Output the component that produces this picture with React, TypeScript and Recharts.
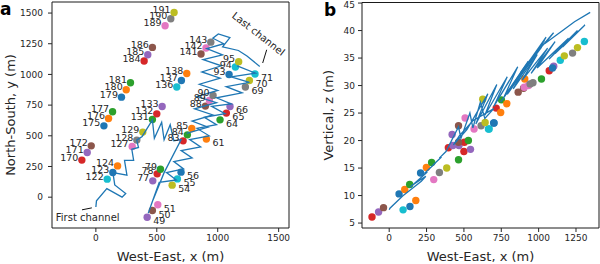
import React from 'react';
import { ScatterChart, Scatter, XAxis, YAxis, Cell, ReferenceArea, ReferenceLine, ReferenceDot } from 'recharts';

const tab10 = ['#1f77b4', '#ff7f0e', '#2ca02c', '#d62728', '#9467bd', '#8c564b', '#e377c2', '#7f7f7f', '#bcbd22', '#17becf'];

// survey points: id, west-east (m), north-south (m), vertical (m), colour slot
const pointIds = [49, 50, 51, 54, 55, 56, 61, 64, 65, 66, 69, 70, 71, 77, 78, 79, 83, 84, 85, 88, 89, 90, 93, 94, 95,
  122, 123, 124, 127, 128, 129, 131, 132, 133, 136, 137, 138, 141, 142, 143,
  170, 171, 172, 175, 176, 177, 179, 180, 181, 184, 185, 186, 189, 190, 191];
const pointWE = [421, 464, 508, 626, 669, 699, 907, 1019, 1071, 1101, 1227, 1260, 1306, 467, 503, 530, 716, 751, 787, 899, 932, 962, 1093, 1145, 1172,
  93, 139, 178, 298, 336, 385, 464, 500, 544, 664, 702, 746, 863, 904, 943,
  -115, -71, -38, 66, 104, 137, 210, 249, 284, 396, 426, 464, 568, 615, 642];
const pointNS = [-163, -109, -62, 98, 149, 204, 473, 630, 685, 739, 897, 951, 1003, 133, 190, 228, 459, 508, 560, 742, 788, 829, 1000, 1060, 1103,
  147, 201, 255, 413, 465, 530, 633, 679, 739, 897, 951, 1008, 1166, 1215, 1263,
  302, 364, 418, 581, 641, 696, 815, 875, 932, 1109, 1160, 1220, 1397, 1454, 1505];
const pointZ = [21.1, 22.7, 24.1, 27.5, 22.1, 23.2, 31.2, 31.2, 32.7, 33.5, 35.9, 36.9, 38.0, 19.1, 19.7, 20.0, 25.9, 27.4, 26.7, 29.5, 30.0, 30.5, 33.2, 34.6, 35.4,
  7.4, 8.0, 9.1, 12.9, 14.2, 15.0, 16.5, 18.0, 18.4, 22.1, 23.2, 25.1, 28.8, 29.7, 30.3,
  6.1, 7.0, 7.8, 10.3, 11.1, 12.0, 14.1, 15.1, 16.0, 18.7, 19.1, 19.7, 22.1, 22.7, 23.3];
const pointColor = [4, 5, 6, 8, 9, 0, 1, 2, 3, 4, 7, 8, 9, 4, 3, 2, 3, 2, 1, 5, 6, 7, 0, 9, 8,
  9, 0, 1, 6, 7, 8, 2, 3, 4, 9, 0, 1, 5, 6, 7,
  3, 4, 5, 0, 1, 2, 0, 1, 2, 3, 4, 5, 6, 7, 8];
const rightTagged = new Set([49, 50, 51, 54, 55, 56, 61, 64, 65, 66, 69, 70, 71]);

// channel trace, first run: first channel, staircase, east band, long leg, lower-right zigzag
const lowerRunX = [0, 5, 90, 215, 245, 155, 140,
  255, 235, 310, 295, 350, 335, 380,
  464, 480, 540, 560, 610, 640, 700,
  560, 470, 430, 455, 520,
  660, 580, 720, 640, 790, 700, 860, 770, 930, 830, 990, 890, 1060, 950, 1110, 990,
  1200, 1070, 1260, 1110, 1310, 1160];
const lowerRunY = [-80, -30, 70, 0, 30, 100, 200,
  180, 300, 300, 390, 405, 465, 495,
  630, 480, 610, 468, 590, 460, 470,
  200, -20, -130, -60, 120,
  140, 200, 230, 290, 320, 380, 410, 470, 500, 560, 590, 650, 680, 740, 760, 810,
  850, 900, 935, 980, 1010, 1070];
const lowerRunZ = [7.4, 7.7, 9.9, 12.6, 13.5, 11.9, 11.5,
  14.3, 14.0, 15.9, 15.6, 17.0, 16.8, 18.0,
  22.5, 20.4, 25.0, 22.3, 27.0, 24.0, 25.8,
  23.6, 20.9, 19.2, 20.0, 22.0,
  28.5, 23.0, 30.2, 24.6, 31.6, 26.2, 33.4, 28.0, 34.4, 29.4, 35.6, 31.0, 36.8, 32.2, 38.0, 33.2,
  38.6, 34.8, 40.0, 35.8, 41.0, 37.0];

// second run: left zigzag up to the top, then out to the last channel
const upperRunX = [745, 920, 790, 960, 810, 990, 830, 1000, 850, 1020, 870, 1030, 880, 1040, 910, 1050, 960, 1005, 1100, 1040, 1170, 1240, 1345];
const upperRunY = [520, 570, 620, 670, 720, 770, 820, 870, 920, 970, 1020, 1070, 1120, 1160, 1210, 1250, 1295, 1330, 1300, 1225, 1195, 1150, 1065];
const upperRunZ = [27.0, 33.8, 28.4, 35.0, 29.2, 35.8, 30.0, 36.4, 30.8, 37.0, 31.6, 37.6, 32.4, 38.2, 33.4, 38.8, 34.8, 36.6, 39.6, 37.6, 40.2, 41.6, 43.3];

const points = pointIds.map((id, i) => ({ id, x: pointWE[i], y: pointNS[i], z: pointZ[i], c: tab10[pointColor[i]] }));
const lowerRun = lowerRunX.map((x, i) => ({ x, y: lowerRunY[i], z: lowerRunZ[i] }));
const upperRun = upperRunX.map((x, i) => ({ x, y: upperRunY[i], z: upperRunZ[i] }));

const ink = '#262626';
const lineBlue = '#1f77b4';
const tickStyle = { fontSize: 9, fill: ink };
const titleSize = 13;

const Dot = (p: any) => <circle cx={p.cx} cy={p.cy} r={3.7} fill={p.fill} />;
const NoMark = () => <g />;
const Tag = (p: any) => {
  const right = rightTagged.has(p.payload.id);
  return (
    <text x={right ? p.cx + 6 : p.cx - 3.5} y={right ? p.cy + 7 : p.cy + 0.6} textAnchor={right ? 'start' : 'end'} fontSize={9.5} fill={ink}>
      {p.payload.id}
    </text>
  );
};

function PlanView() {
  const xd: [number, number] = [-360, 1585];
  const yd: [number, number] = [-251, 1590];
  return (
    <ScatterChart width={300} height={264} margin={{ top: 2, right: 11, bottom: 0, left: 0 }}>
      <XAxis type="number" dataKey="x" domain={xd} ticks={[0, 500, 1000, 1500]} allowDataOverflow axisLine={false}
        tickSize={4} tickMargin={3} tick={tickStyle} tickLine={{ stroke: ink }} height={36}
        label={{ value: 'West-East, x (m)', position: 'insideBottom', offset: 3, fontSize: titleSize, fill: ink }} />
      <YAxis type="number" dataKey="y" domain={yd} ticks={[0, 250, 500, 750, 1000, 1250, 1500]} allowDataOverflow axisLine={false}
        tickSize={4} tickMargin={5} tick={tickStyle} tickLine={{ stroke: ink }} width={52}
        label={{ value: 'North-South, y (m)', angle: -90, position: 'insideLeft', offset: 10, fontSize: titleSize, fill: ink, style: { textAnchor: 'middle' } }} />
      <ReferenceArea x1={xd[0]} x2={xd[1]} y1={yd[0]} y2={yd[1]} fill="none" stroke="#1a1a1a" strokeWidth={1} />
      <Scatter data={points} shape={Dot} isAnimationActive={false}>
        {points.map((p) => <Cell key={p.id} fill={p.c} />)}
      </Scatter>
      <Scatter data={lowerRun} shape={NoMark} line={{ stroke: lineBlue, strokeWidth: 1.3 }} isAnimationActive={false} />
      <Scatter data={upperRun} shape={NoMark} line={{ stroke: lineBlue, strokeWidth: 1.3 }} isAnimationActive={false} />
      <Scatter data={points} shape={Tag} isAnimationActive={false} />
      <ReferenceLine segment={[{ x: -114, y: -103 }, { x: -33, y: -87 }]} stroke="#111" strokeWidth={1} />
      <ReferenceLine segment={[{ x: 1369, y: 1093 }, { x: 1402, y: 1201 }]} stroke="#111" strokeWidth={1} />
      <ReferenceDot x={-67} y={-164} r={0} fill="none" stroke="none"
        label={{ value: 'First channel', position: 'center', fontSize: 10, fill: ink }} />
      <ReferenceDot x={1335} y={1331} r={0} fill="none" stroke="none"
        label={{ value: 'Last channel', position: 'center', angle: 38, fontSize: 10, fill: ink }} />
    </ScatterChart>
  );
}

function SectionView() {
  const xd: [number, number] = [-182, 1404];
  const zd: [number, number] = [4.1, 45.1];
  return (
    <ScatterChart width={300} height={264} margin={{ top: 2.5, right: 1, bottom: 0, left: 0 }}>
      <XAxis type="number" dataKey="x" domain={xd} ticks={[0, 250, 500, 750, 1000, 1250]} allowDataOverflow axisLine={false}
        tickSize={4} tickMargin={3} tick={tickStyle} tickLine={{ stroke: ink }} height={36}
        label={{ value: 'West-East, x (m)', position: 'insideBottom', offset: 3, fontSize: titleSize, fill: ink }} />
      <YAxis type="number" dataKey="z" domain={zd} ticks={[5, 10, 15, 20, 25, 30, 35, 40, 45]} allowDataOverflow axisLine={false}
        tickSize={4} tickMargin={3} tick={tickStyle} tickLine={{ stroke: ink }} width={62}
        label={{ value: 'Vertical, z (m)', angle: -90, position: 'insideLeft', offset: 28, fontSize: titleSize, fill: ink, style: { textAnchor: 'middle' } }} />
      <ReferenceArea x1={xd[0]} x2={xd[1]} y1={zd[0]} y2={zd[1]} fill="none" stroke="#1a1a1a" strokeWidth={1} />
      <Scatter data={points} shape={Dot} isAnimationActive={false}>
        {points.map((p) => <Cell key={p.id} fill={p.c} />)}
      </Scatter>
      <Scatter data={lowerRun} shape={NoMark} line={{ stroke: lineBlue, strokeWidth: 1.3 }} isAnimationActive={false} />
      <Scatter data={upperRun} shape={NoMark} line={{ stroke: lineBlue, strokeWidth: 1.3 }} isAnimationActive={false} />
    </ScatterChart>
  );
}

export default function App() {
  const letter: React.CSSProperties = { position: 'absolute', fontWeight: 'bold', fontSize: 17, lineHeight: '17px' };
  return (
    <div style={{ position: 'absolute', left: 0, top: 0, width: 600, height: 264, background: '#fff', fontFamily: '"DejaVu Sans", sans-serif' }}>
      <div style={{ position: 'absolute', left: 0, top: 0 }}><PlanView /></div>
      <div style={{ position: 'absolute', left: 300, top: 0 }}><SectionView /></div>
      <div style={{ ...letter, left: 0, top: 1 }}>a</div>
      <div style={{ ...letter, left: 324, top: 2 }}>b</div>
    </div>
  );
}
